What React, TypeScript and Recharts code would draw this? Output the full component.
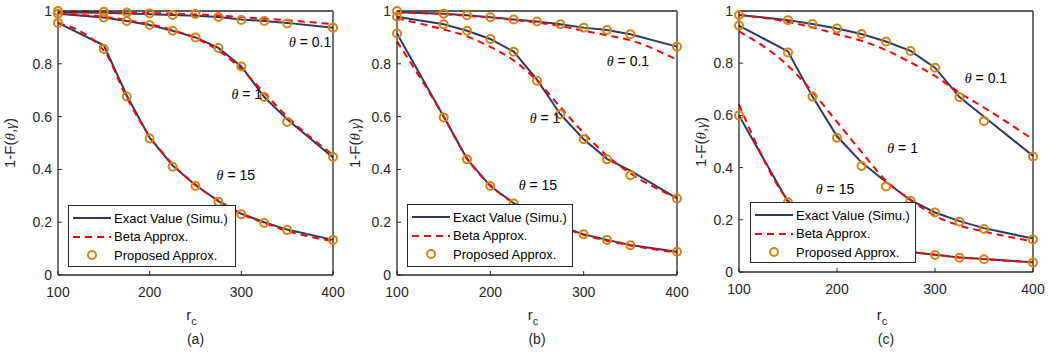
import React from 'react';
import { LineChart, Line, XAxis, YAxis, ReferenceDot } from 'recharts';

// r_c samples shared by all three panels
const rc = [100, 150, 175, 200, 225, 250, 275, 300, 325, 350, 400];
const xTicks = [100, 200, 300, 400];
const yTicks = [0, 0.2, 0.4, 0.6, 0.8, 1];
const thetas = ['0.1', '1', '15'];

// panel (a)
const aExact01 = [0.995, 0.993, 0.991, 0.988, 0.985, 0.982, 0.977, 0.968, 0.962, 0.955, 0.937];
const aExact1 = [0.99, 0.975, 0.962, 0.947, 0.925, 0.9, 0.86, 0.79, 0.674, 0.59, 0.445];
const aExact15 = [0.955, 0.87, 0.68, 0.52, 0.415, 0.34, 0.28, 0.232, 0.2, 0.172, 0.133];
const aBeta01 = [0.998, 0.996, 0.994, 0.992, 0.99, 0.987, 0.983, 0.977, 0.971, 0.965, 0.95];
const aBeta1 = [0.99, 0.978, 0.966, 0.95, 0.928, 0.897, 0.85, 0.78, 0.69, 0.6, 0.455];
const aBeta15 = [0.955, 0.85, 0.672, 0.525, 0.42, 0.342, 0.282, 0.232, 0.197, 0.167, 0.128];
const aProp01 = [1.0, 0.997, 0.994, 0.991, 0.985, 0.989, 0.977, 0.966, 0.962, 0.953, 0.937];
const aProp1 = [0.99, 0.975, 0.962, 0.947, 0.925, 0.9, 0.86, 0.79, 0.674, 0.58, 0.447];
const aProp15 = [0.955, 0.856, 0.676, 0.517, 0.41, 0.337, 0.277, 0.23, 0.197, 0.17, 0.133];

// panel (b)
const bExact01 = [0.995, 0.99, 0.984, 0.976, 0.968, 0.96, 0.95, 0.937, 0.928, 0.912, 0.865];
const bExact1 = [0.978, 0.95, 0.925, 0.894, 0.846, 0.74, 0.609, 0.514, 0.44, 0.395, 0.29];
const bExact15 = [0.915, 0.6, 0.44, 0.337, 0.272, 0.225, 0.185, 0.154, 0.133, 0.114, 0.088];
const bBeta01 = [0.995, 0.988, 0.982, 0.975, 0.966, 0.956, 0.943, 0.925, 0.908, 0.889, 0.815];
const bBeta1 = [0.972, 0.93, 0.904, 0.864, 0.813, 0.736, 0.636, 0.538, 0.452, 0.385, 0.292];
const bBeta15 = [0.885, 0.6, 0.442, 0.34, 0.273, 0.225, 0.185, 0.152, 0.13, 0.112, 0.085];
const bProp01 = [1.0, 0.99, 0.984, 0.976, 0.968, 0.96, 0.95, 0.937, 0.928, 0.912, 0.865];
const bProp1 = [0.978, 0.95, 0.925, 0.894, 0.846, 0.736, 0.609, 0.514, 0.438, 0.378, 0.29];
const bProp15 = [0.915, 0.597, 0.438, 0.337, 0.271, 0.225, 0.185, 0.154, 0.133, 0.113, 0.088];

// panel (c)
const cExact01 = [0.985, 0.965, 0.95, 0.933, 0.912, 0.883, 0.847, 0.783, 0.67, 0.595, 0.445];
const cExact1 = [0.944, 0.845, 0.672, 0.52, 0.42, 0.345, 0.275, 0.228, 0.195, 0.168, 0.128];
const cExact15 = [0.6, 0.268, 0.19, 0.14, 0.11, 0.09, 0.077, 0.066, 0.056, 0.05, 0.037];
const cBeta01 = [0.985, 0.958, 0.937, 0.911, 0.886, 0.85, 0.803, 0.751, 0.687, 0.63, 0.508];
const cBeta1 = [0.922, 0.79, 0.69, 0.575, 0.46, 0.35, 0.277, 0.215, 0.178, 0.155, 0.117];
const cBeta15 = [0.642, 0.275, 0.195, 0.143, 0.112, 0.092, 0.078, 0.066, 0.056, 0.049, 0.037];
const cProp01 = [0.985, 0.965, 0.95, 0.933, 0.912, 0.883, 0.847, 0.783, 0.67, 0.578, 0.443];
const cProp1 = [0.944, 0.841, 0.672, 0.514, 0.406, 0.328, 0.273, 0.228, 0.193, 0.165, 0.125];
const cProp15 = [0.6, 0.267, 0.19, 0.14, 0.11, 0.09, 0.077, 0.065, 0.055, 0.049, 0.036];

const NAVY = '#2b3a63';
const RED = '#ff0000';
const ORANGE = '#d9820f';
const INK = '#262626';
const SANS = '"Liberation Sans", Arial, Helvetica, sans-serif';
const SERIF = '"Liberation Serif", "DejaVu Serif", serif';
const H = 353;
const TOP = 11;

type Box = { left: number; top: number; width: number; height: number };
type PanelSpec = {
  caption: string;
  exact: number[][];
  beta: number[][];
  prop: number[][];
  notes: [number, number][];
  left: number;
  width: number;
  yAxisW: number;
  rightW: number;
  bottomH: number;
  titleX: number;
  legend: Box;
};

const panels: PanelSpec[] = [
  {
    caption: '(a)',
    exact: [aExact01, aExact1, aExact15],
    beta: [aBeta01, aBeta1, aBeta15],
    prop: [aProp01, aProp1, aProp15],
    notes: [[375, 0.882], [306, 0.685], [294, 0.378]],
    left: 0, width: 350, yAxisW: 58, rightW: 17, bottomH: 78, titleX: 10,
    legend: { left: 68, top: 205, width: 168, height: 62 },
  },
  {
    caption: '(b)',
    exact: [bExact01, bExact1, bExact15],
    beta: [bBeta01, bBeta1, bBeta15],
    prop: [bProp01, bProp1, bProp15],
    notes: [[347.5, 0.81], [258.6, 0.595], [251, 0.34]],
    left: 350, width: 344, yAxisW: 47, rightW: 17, bottomH: 78, titleX: 5,
    legend: { left: 57, top: 204, width: 166, height: 63 },
  },
  {
    caption: '(c)',
    exact: [cExact01, cExact1, cExact15],
    beta: [cBeta01, cBeta1, cBeta15],
    prop: [cProp01, cProp1, cProp15],
    notes: [[352, 0.743], [267, 0.475], [198, 0.318]],
    left: 698, width: 350, yAxisW: 41, rightW: 15, bottomH: 81, titleX: 3,
    legend: { left: 52, top: 202, width: 166, height: 61 },
  },
];

const tickStyle = { fill: INK, fontSize: 14, fontFamily: SANS };
const axisLine = { stroke: INK, strokeWidth: 1.3 };
const tickLine = { stroke: INK, strokeWidth: 1 };

const fmtY = (v: number) => String(v);
const blank = () => '';

function ThetaNote(text: string) {
  return (props: any) => {
    const vb = props.viewBox || {};
    return (
      <text x={vb.x} y={vb.y} textAnchor="middle" dominantBaseline="central" fill="#000" fontSize={14} fontFamily={SANS}>
        <tspan fontFamily={SERIF} fontStyle="italic">θ</tspan>
        <tspan>{' = ' + text}</tspan>
      </text>
    );
  };
}

function LegendBox({ box }: { box: Box }) {
  const row = (sample: React.ReactNode, label: string) => (
    <div style={{ display: 'flex', alignItems: 'center', height: 18.5 }}>
      <svg width={40} height={12} style={{ flex: 'none' }}>{sample}</svg>
      <span style={{ marginLeft: 2 }}>{label}</span>
    </div>
  );
  return (
    <div
      style={{
        position: 'absolute', left: box.left, top: box.top, width: box.width, height: box.height,
        boxSizing: 'border-box', border: `1.5px solid ${INK}`, background: '#fff',
        fontFamily: SANS, fontSize: 13, color: '#000', padding: '3px 0 0 3px', lineHeight: 1,
      }}
    >
      {row(<line x1={1} y1={6} x2={39} y2={6} stroke={NAVY} strokeWidth={2} />, 'Exact Value (Simu.)')}
      {row(<line x1={1} y1={6} x2={39} y2={6} stroke={RED} strokeWidth={2} strokeDasharray="7 5" />, 'Beta Approx.')}
      {row(<circle cx={20} cy={6} r={4} stroke={ORANGE} strokeWidth={2} fill="none" />, 'Proposed Approx.')}
    </div>
  );
}

function Panel({ p }: { p: PanelSpec }) {
  const rows = rc.map((r, i) => {
    const row: Record<string, number> = { rc: r };
    for (let k = 0; k < 3; k++) {
      row['e' + k] = p.exact[k][i];
      row['b' + k] = p.beta[k][i];
      row['p' + k] = p.prop[k][i];
    }
    return row;
  });
  const plotMid = (p.yAxisW + p.width - p.rightW) / 2;
  const plotMidY = (TOP + H - p.bottomH) / 2;

  return (
    <div style={{ position: 'absolute', left: p.left, top: 0, width: p.width, height: H }}>
      <LineChart width={p.width} height={H} data={rows} margin={{ top: 0, right: 0, bottom: 0, left: 0 }}>
        <XAxis dataKey="rc" type="number" domain={[100, 400]} ticks={xTicks} height={p.bottomH}
          axisLine={axisLine} tickLine={tickLine} tickSize={-4} tickMargin={16} tick={tickStyle} />
        <XAxis xAxisId="t" orientation="top" type="number" domain={[100, 400]} ticks={xTicks} height={TOP}
          axisLine={axisLine} tickLine={tickLine} tickSize={-4} tickFormatter={blank} />
        <YAxis type="number" domain={[0, 1]} ticks={yTicks} width={p.yAxisW}
          axisLine={axisLine} tickLine={tickLine} tickSize={-4} tickMargin={10} tick={tickStyle} tickFormatter={fmtY} />
        <YAxis yAxisId="r" orientation="right" type="number" domain={[0, 1]} ticks={yTicks} width={p.rightW}
          axisLine={axisLine} tickLine={tickLine} tickSize={-4} tickFormatter={blank} />
        {[0, 1, 2].map((k) => (
          <Line key={'e' + k} dataKey={'e' + k} type="linear" stroke={NAVY} strokeWidth={2}
            dot={false} activeDot={false} isAnimationActive={false} />
        ))}
        {[0, 1, 2].map((k) => (
          <Line key={'b' + k} dataKey={'b' + k} type="monotone" stroke={RED} strokeWidth={2} strokeDasharray="7 5"
            dot={false} activeDot={false} isAnimationActive={false} />
        ))}
        {[0, 1, 2].map((k) => (
          <Line key={'p' + k} dataKey={'p' + k} type="linear" stroke="none"
            dot={{ r: 4, stroke: ORANGE, strokeWidth: 2, fill: 'none' }} activeDot={false} isAnimationActive={false} />
        ))}
        {p.notes.map(([x, y], k) => (
          <ReferenceDot key={'n' + k} x={x} y={y} r={0} fill="none" stroke="none" label={{ content: ThetaNote(thetas[k]) }} />
        ))}
      </LineChart>

      <LegendBox box={p.legend} />

      <div style={{
        position: 'absolute', left: p.titleX, top: plotMidY, transform: 'translate(-50%, -50%) rotate(-90deg)',
        whiteSpace: 'nowrap', fontFamily: SANS, fontSize: 15, color: INK, lineHeight: 1,
      }}>
        1-F(<span style={{ fontFamily: SERIF, fontStyle: 'italic' }}>θ</span>,<span style={{ fontFamily: SERIF, fontStyle: 'italic' }}>γ</span>)
      </div>

      <div style={{
        position: 'absolute', left: plotMid - 4, top: 307, transform: 'translateX(-50%)',
        fontFamily: SANS, fontSize: 15, color: INK, lineHeight: 1, whiteSpace: 'nowrap',
      }}>
        r<span style={{ fontSize: 11, position: 'relative', top: 5 }}>c</span>
      </div>

      <div style={{
        position: 'absolute', left: plotMid, top: 332, transform: 'translateX(-50%)',
        fontFamily: SANS, fontSize: 14, color: INK, lineHeight: 1,
      }}>
        {p.caption}
      </div>
    </div>
  );
}

export default function App() {
  return (
    <div style={{ position: 'absolute', left: 0, top: 0, width: 1048, height: H, background: '#fff', overflow: 'hidden' }}>
      {panels.map((p) => (
        <Panel key={p.caption} p={p} />
      ))}
    </div>
  );
}
